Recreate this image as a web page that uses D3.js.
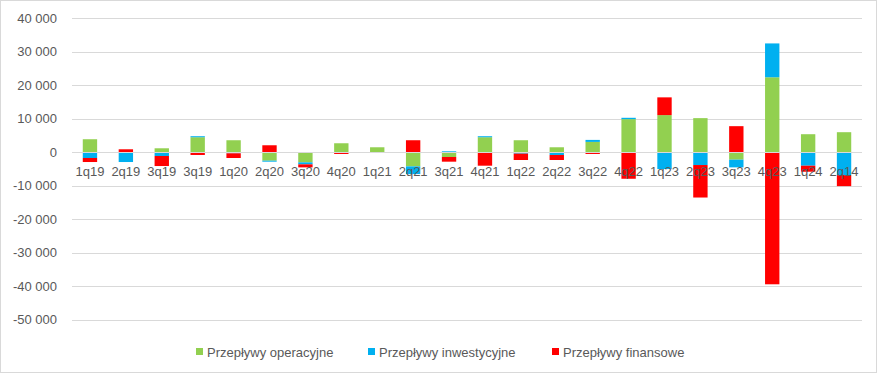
<!DOCTYPE html>
<html>
<head>
<meta charset="utf-8">
<script src="https://cdn.jsdelivr.net/npm/d3@7"></script>
<style>
  body { margin: 0; background: #fff; }
  text { font-family: "Liberation Sans", Arial, sans-serif; }
</style>
</head>
<body>
<div id="chart"></div>
<script>
const quarters = ["1q19", "2q19", "3q19", "3q19", "1q20", "2q20", "3q20", "4q20", "1q21", "2q21", "3q21",
                  "4q21", "1q22", "2q22", "3q22", "4q22", "1q23", "2q23", "3q23", "4q23", "1q24", "2q14"];
const operacyjne   = [3900, 0, 1200, 4500, 3600, -2500, -3000, 2700, 1500, -4200, -1400,
                      4500, 3600, 1500, 3100, 9900, 11100, 10200, -2200, 22400, 5400, 6000];
const inwestycyjne = [-1700, -2900, -1100, 300, -300, -300, -600, -100, 0, -2300, 300,
                      300, -400, -800, 600, 400, -5000, -3800, -2300, 10100, -4000, -6800];
const finansowe    = [-1200, 900, -3000, -800, -1400, 2100, -900, -400, 0, 3600, -1400,
                      -4000, -1900, -1500, -500, -7900, 5300, -9700, 7800, -39400, -1800, -3300];
const seriesNames = ["Przepływy operacyjne", "Przepływy inwestycyjne", "Przepływy finansowe"];
const seriesColors = ["#92d050", "#00b0f0", "#ff0000"];
const yTicks = [40000, 30000, 20000, 10000, 0, -10000, -20000, -30000, -40000, -50000];

const W = 882, H = 377;
const plotLeft = 72, plotRight = 862, plotTop = 18.3, plotBottom = 319.8;

const svg = d3.select("#chart").append("svg")
    .attr("width", W)
    .attr("height", H);

// ramka wykresu
svg.append("rect")
    .attr("x", 0.5).attr("y", 0.5)
    .attr("width", 876).attr("height", 372)
    .attr("fill", "#fff")
    .attr("stroke", "#d9d9d9");

const rows = quarters.map((q, i) => ({
    i: i,
    op: operacyjne[i],
    inv: inwestycyjne[i],
    fin: finansowe[i]
}));

const stack = d3.stack()
    .keys(["op", "inv", "fin"])
    .offset(d3.stackOffsetDiverging);
const stacked = stack(rows);

const x = d3.scaleBand()
    .domain(d3.range(quarters.length))
    .range([plotLeft, plotRight])
    .paddingInner(0.6)
    .paddingOuter(0.3);

const y = d3.scaleLinear()
    .domain([-50000, 40000])
    .range([plotBottom, plotTop]);

const fmt = v => d3.format(",")(v).replace(/,/g, " ").replace("−", "-");

// linie siatki
svg.append("g")
    .selectAll("line")
    .data(yTicks.filter(d => d !== 0))
    .enter()
    .append("line")
    .attr("x1", plotLeft).attr("x2", plotRight)
    .attr("y1", d => Math.round(y(d)) + 0.5)
    .attr("y2", d => Math.round(y(d)) + 0.5)
    .attr("stroke", "#d9d9d9");

svg.append("g")
    .selectAll("text")
    .data(yTicks)
    .enter()
    .append("text")
    .attr("x", 57)
    .attr("y", d => y(d))
    .attr("dy", "0.35em")
    .attr("text-anchor", "end")
    .attr("fill", "#595959")
    .style("font-size", "13px")
    .text(d => fmt(d));

// słupki
svg.append("g")
    .selectAll("g")
    .data(stacked)
    .enter()
    .append("g")
    .attr("fill", (d, k) => seriesColors[k])
    .selectAll("rect")
    .data(d => d)
    .enter()
    .append("rect")
    .attr("x", d => x(d.data.i))
    .attr("width", x.bandwidth())
    .attr("y", d => y(Math.max(d[0], d[1])))
    .attr("height", d => Math.abs(y(d[0]) - y(d[1])));

// oś zero
svg.append("line")
    .attr("x1", plotLeft).attr("x2", plotRight)
    .attr("y1", Math.round(y(0)) + 0.5)
    .attr("y2", Math.round(y(0)) + 0.5)
    .attr("stroke", "#d9d9d9");

svg.append("g")
    .selectAll("text")
    .data(quarters)
    .enter()
    .append("text")
    .attr("x", (d, i) => x(i) + x.bandwidth() / 2)
    .attr("y", 176)
    .attr("text-anchor", "middle")
    .attr("fill", "#595959")
    .style("font-size", "13px")
    .text(d => d);

// legenda
const legendX = [196, 368, 552];
const legend = svg.append("g")
    .selectAll("g")
    .data(seriesNames)
    .enter()
    .append("g")
    .attr("transform", (d, k) => `translate(${legendX[k]},352)`);

legend.append("rect")
    .attr("x", 0).attr("y", -4)
    .attr("width", 7).attr("height", 7)
    .attr("fill", (d, k) => seriesColors[k]);

legend.append("text")
    .attr("x", 11)
    .attr("y", 0)
    .attr("dy", "0.35em")
    .attr("fill", "#595959")
    .style("font-size", "13px")
    .text(d => d);
</script>
</body>
</html>
